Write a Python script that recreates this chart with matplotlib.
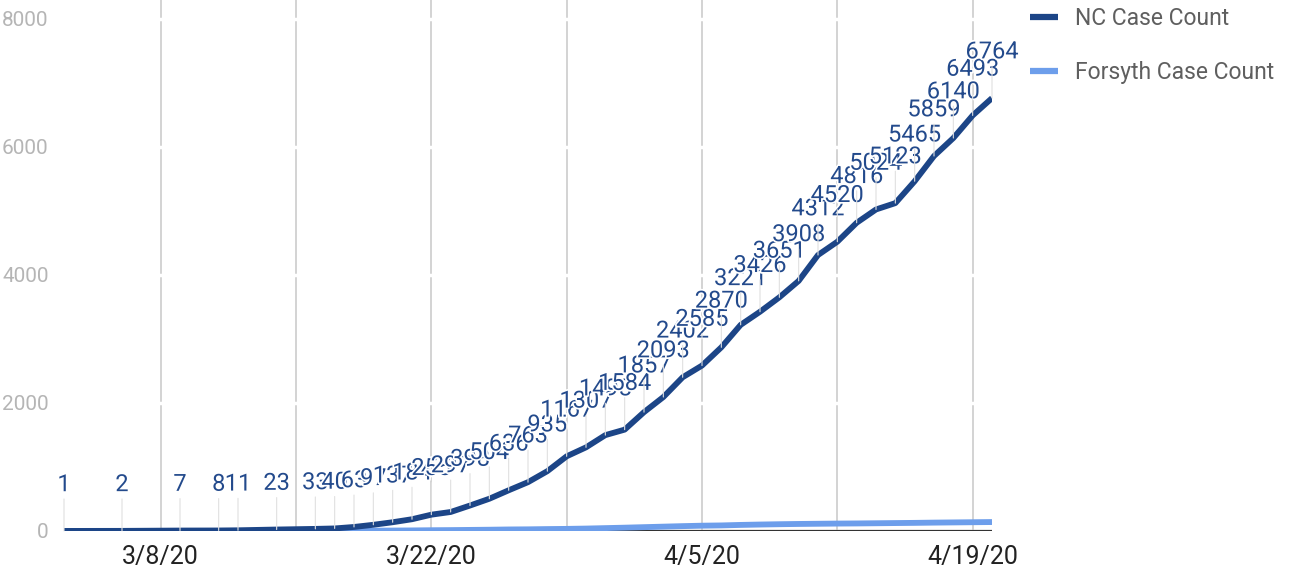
import matplotlib
matplotlib.use('Agg')
from matplotlib import pyplot as plt
import matplotlib.patheffects as pe
import pandas as pd

plt.rcParams['font.family'] = ['Roboto', 'DejaVu Sans']

dates = ['2020-03-03', '2020-03-06', '2020-03-09', '2020-03-11', '2020-03-12',
         '2020-03-14', '2020-03-16', '2020-03-17', '2020-03-18', '2020-03-19',
         '2020-03-20', '2020-03-21', '2020-03-22', '2020-03-23', '2020-03-24',
         '2020-03-25', '2020-03-26', '2020-03-27', '2020-03-28', '2020-03-29',
         '2020-03-30', '2020-03-31', '2020-04-01', '2020-04-02', '2020-04-03',
         '2020-04-04', '2020-04-05', '2020-04-06', '2020-04-07', '2020-04-08',
         '2020-04-09', '2020-04-10', '2020-04-11', '2020-04-12', '2020-04-13',
         '2020-04-14', '2020-04-15', '2020-04-16', '2020-04-17', '2020-04-18',
         '2020-04-19', '2020-04-20']
nc_cases = [1, 2, 7, 8, 11, 23, 33, 40, 63, 97,
            137, 184, 255, 297, 398, 504, 636, 763, 935, 1167,
            1307, 1498, 1584, 1857, 2093, 2402, 2585, 2870, 3221, 3426,
            3651, 3908, 4312, 4520, 4816, 5024, 5123, 5465, 5859, 6140,
            6493, 6764]
forsyth_cases = [0, 0, 0, 0, 0, 1, 1, 2, 3, 5,
                 7, 9, 12, 14, 17, 20, 24, 26, 30, 33,
                 38, 45, 52, 60, 68, 76, 83, 87, 95, 101,
                 106, 110, 113, 116, 118, 121, 124, 127, 131, 134,
                 137, 140]
grid_dates = ['2020-03-08', '2020-03-15', '2020-03-22', '2020-03-29',
              '2020-04-05', '2020-04-12', '2020-04-19']
label_dates = ['2020-03-08', '2020-03-22', '2020-04-05', '2020-04-19']
label_text = ['3/8/20', '3/22/20', '4/5/20', '4/19/20']
y_ticks = [0, 2000, 4000, 6000, 8000]

x = pd.to_datetime(dates)
nc_color = '#1c4587'
forsyth_color = '#6d9eeb'

fig = plt.figure(figsize=(12.9, 5.77), dpi=100)
ax = fig.add_axes([64 / 1290, 1 - 531 / 577, (992 - 64) / 1290, 531 / 577])

ax.plot(x, forsyth_cases, c=forsyth_color, lw=4.2, solid_capstyle='butt',
        zorder=3, label='Forsyth Case Count')
ax.plot(x, nc_cases, c=nc_color, lw=4.2, solid_capstyle='butt',
        solid_joinstyle='round', zorder=4, label='NC Case Count')
ax.axhline(0, color='#333333', lw=1.6, zorder=2)

# labels on short stems above each NC point
for d, v in zip(x, nc_cases):
    ax.annotate(str(v), xy=(d, v), xytext=(0, 25), textcoords='offset points',
                ha='center', va='bottom', fontsize=17, color='#234a8c',
                annotation_clip=False, zorder=5,
                path_effects=[pe.withStroke(linewidth=2.5, foreground='white')],
                arrowprops=dict(arrowstyle='-', color='#e0e0e0', lw=0.8,
                                shrinkA=0, shrinkB=0))

ax.set_xlim(x[0], x[-1])
ax.set_ylim(0, 531 / 0.064)
ax.set_yticks(y_ticks)
ax.set_xticks(pd.to_datetime(label_dates))
ax.set_xticklabels(label_text)
ax.set_xticks(pd.to_datetime(grid_dates), minor=True)
ax.xaxis.remove_overlapping_locs = False

ax.grid(axis='x', which='minor', color='#cccccc', lw=1.2)
ax.grid(axis='y', which='major', color='white', lw=2.5)
ax.set_axisbelow(True)

for s in ax.spines.values():
    s.set_visible(False)
ax.tick_params(axis='both', which='both', length=0)
ax.tick_params(axis='x', labelsize=18, colors='#222222', pad=10)
ax.tick_params(axis='y', labelsize=15, colors='#b5b5b5', pad=11)

handles, labels = ax.get_legend_handles_labels()
leg = ax.legend(handles[::-1], labels[::-1], loc='upper left',
                bbox_to_anchor=(1030 / 1290, 1 - 7 / 577),
                bbox_transform=fig.transFigure, frameon=False, fontsize=16.5,
                handlelength=1.2, handletextpad=0.75, labelspacing=1.35,
                borderpad=0, borderaxespad=0)
for line in leg.get_lines():
    line.set_linewidth(4.5)
for t in leg.get_texts():
    t.set_color('#5f5f5f')

plt.savefig('out.png', dpi=100)
